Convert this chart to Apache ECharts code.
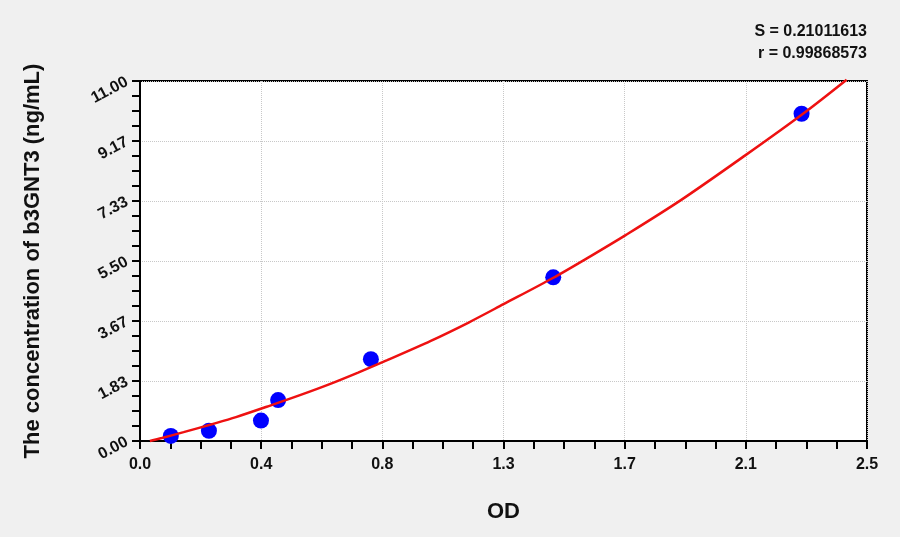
<!DOCTYPE html>
<html>
<head>
<meta charset="utf-8">
<script src="https://cdn.jsdelivr.net/npm/echarts@6/dist/echarts.min.js"></script>
<style>
html,body{margin:0;padding:0;background:#f0f0f0;}
#c{width:900px;height:537px;}
</style>
</head>
<body>
<div id="c"></div>
<script>
// Standard points (OD, concentration)
const pointOD = [0.106, 0.237, 0.416, 0.475, 0.794, 1.421, 2.275];
const pointConc = [0.156, 0.313, 0.625, 1.25, 2.5, 5, 10];
// Fitted curve
const curveOD = [0.034, 0.075, 0.15, 0.25, 0.33, 0.45, 0.55, 0.65, 0.75, 0.85, 1.00, 1.13, 1.25, 1.42, 1.55, 1.67, 1.86, 2.08, 2.28, 2.43];
const curveConc = [0.00, 0.09, 0.27, 0.52, 0.73, 1.09, 1.40, 1.73, 2.09, 2.47, 3.06, 3.62, 4.18, 4.98, 5.65, 6.29, 7.36, 8.72, 10.00, 11.04];
const xTickLabels = ['0.0', '0.4', '0.8', '1.3', '1.7', '2.1', '2.5'];
const yTickLabels = ['0.00', '1.83', '3.67', '5.50', '7.33', '9.17', '11.00'];
const statsText = ['S = 0.21011613', 'r = 0.99868573'];
const xName = 'OD';
const yName = 'The concentration of b3GNT3 (ng/mL)';

const xMax = 2.5, yMax = 11;
const xInt = xMax / 6, yInt = yMax / 6;
const FONT = 'Liberation Sans, Arial, sans-serif';

const chart = echarts.init(document.getElementById('c'));
chart.setOption({
  backgroundColor: '#f0f0f0',
  animation: false,
  graphic: [{
    type: 'text', right: 33, top: 21,
    style: {
      text: statsText.join('\n'), textAlign: 'right',
      font: 'bold 16px ' + FONT, fill: '#111', lineHeight: 22
    }
  }],
  grid: {left: 140, right: 33, top: 81, bottom: 96, show: true, backgroundColor: '#ffffff', borderColor: '#000', borderWidth: 2},
  xAxis: {
    type: 'value', min: 0, max: xMax, interval: xInt,
    name: xName, nameLocation: 'middle', nameGap: 60,
    nameTextStyle: {fontFamily: FONT, fontSize: 22, fontWeight: 'bold', color: '#111'},
    axisLine: {show: true, onZero: false, lineStyle: {color: '#000', width: 2}},
    axisTick: {show: true, inside: false, length: 8, lineStyle: {color: '#000', width: 2}},
    minorTick: {show: true, splitNumber: 4, length: 8, lineStyle: {color: '#000', width: 2}},
    axisLabel: {
      margin: 16, fontFamily: FONT, fontSize: 16, fontWeight: 'bold', color: '#111',
      formatter: v => xTickLabels[Math.round(v / xInt)]
    },
    splitLine: {show: true, lineStyle: {color: '#c8c8c8', type: 'dotted', width: 1}}
  },
  yAxis: {
    type: 'value', min: 0, max: yMax, interval: yInt,
    name: yName, nameLocation: 'middle', nameGap: 96, nameRotate: 90,
    nameTextStyle: {fontFamily: FONT, fontSize: 22, fontWeight: 'bold', color: '#111'},
    axisLine: {show: true, onZero: false, lineStyle: {color: '#000', width: 2}},
    axisTick: {show: true, inside: false, length: 8, lineStyle: {color: '#000', width: 2}},
    minorTick: {show: true, splitNumber: 4, length: 8, lineStyle: {color: '#000', width: 2}},
    axisLabel: {
      margin: 13, rotate: 28, fontFamily: FONT, fontSize: 16, fontWeight: 'bold', color: '#111',
      formatter: v => yTickLabels[Math.round(v / yInt)]
    },
    splitLine: {show: true, lineStyle: {color: '#c8c8c8', type: 'dotted', width: 1}}
  },
  series: [
    {
      type: 'scatter', z: 2,
      data: pointOD.map((x, i) => [x, pointConc[i]]),
      symbol: 'circle', symbolSize: 16,
      itemStyle: {color: '#0000ff', opacity: 1}
    },
    {
      type: 'line', z: 3, clip: false, smooth: 0.3, showSymbol: false,
      data: curveOD.map((x, i) => [x, curveConc[i]]),
      lineStyle: {color: '#ee1111', width: 2.5}
    }
  ]
});
</script>
</body>
</html>
